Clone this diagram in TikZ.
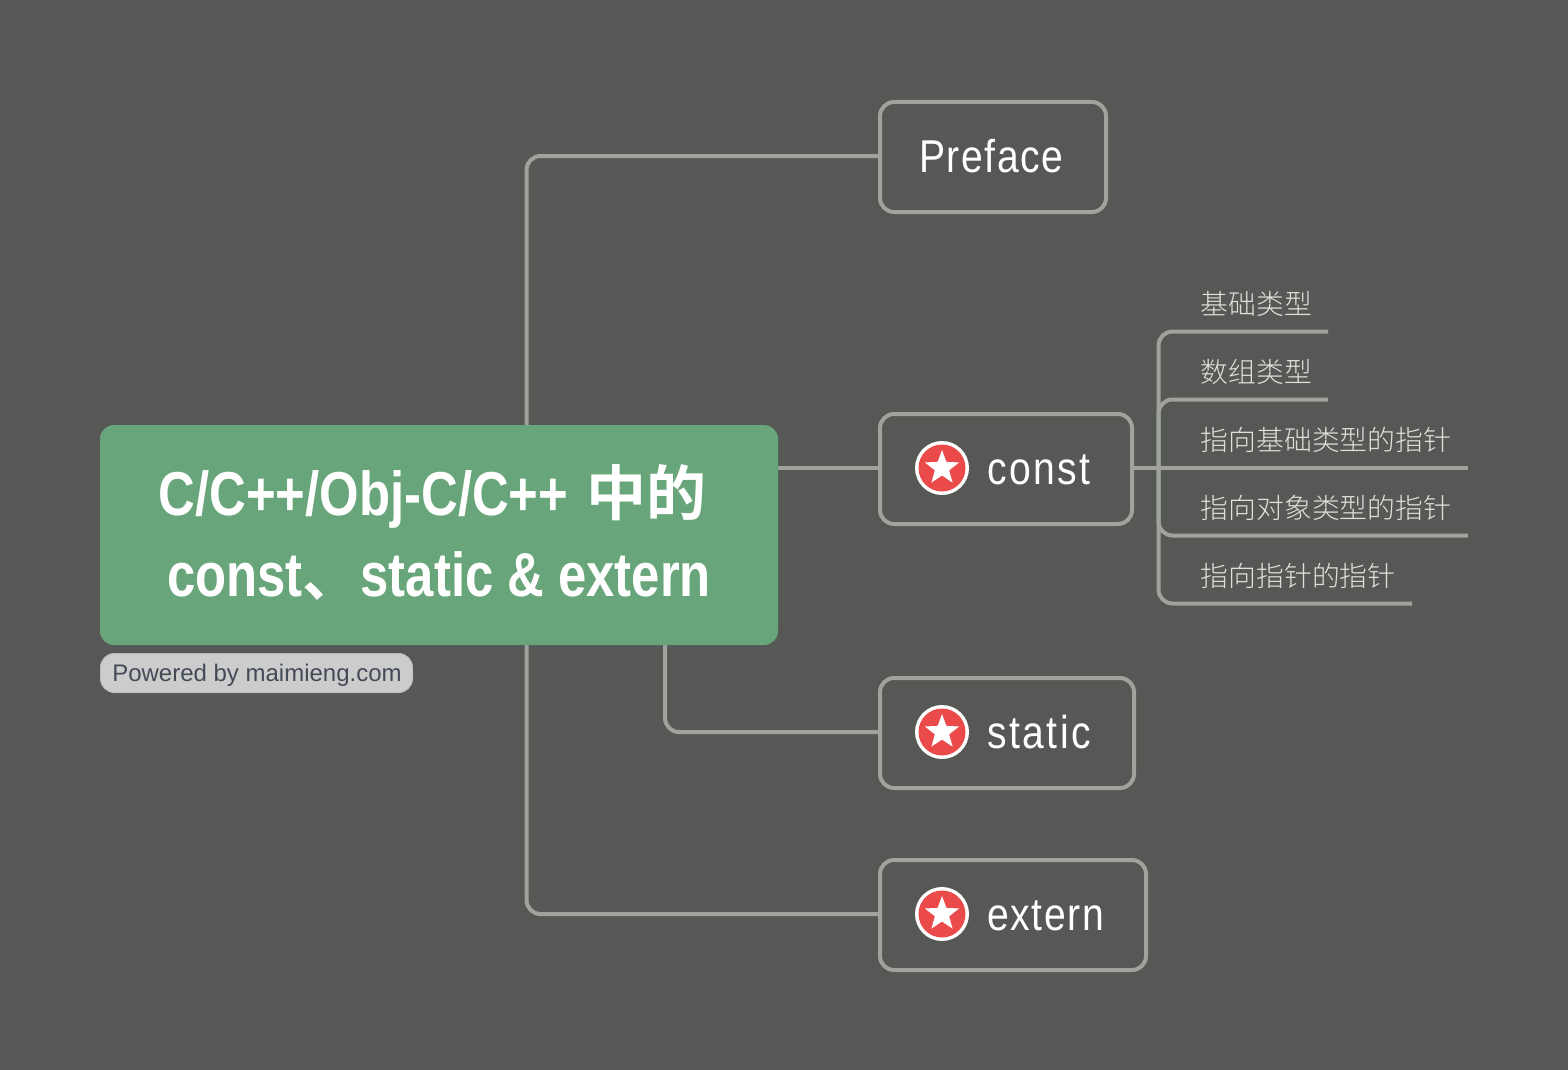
\documentclass[tikz,border=0pt]{standalone}
\usepackage{fontspec}
\usetikzlibrary{shapes.geometric}
\setmainfont{Liberation Sans}
\newfontfamily\condreg[FakeStretch=0.85,LetterSpace=5.5]{Liberation Sans}
\newfontfamily\condregn[FakeStretch=0.85,LetterSpace=3.5]{Liberation Sans}
\newfontfamily\condbold[FakeStretch=0.82,Kerning=Off]{Liberation Sans Bold}
\newfontfamily\condboldk[FakeStretch=0.82]{Liberation Sans Bold}
\newfontfamily\cjk{Noto Sans CJK SC Light}
\newfontfamily\cjkb{Noto Sans CJK SC Bold}
\definecolor{bgc}{HTML}{565855}
\definecolor{linec}{HTML}{9FA39C}
\definecolor{greenc}{HTML}{69A57B}
\definecolor{leafc}{HTML}{DDDFDB}
\definecolor{badgec}{HTML}{CCCCCC}
\definecolor{badget}{HTML}{444B57}
\definecolor{redc}{HTML}{EA4A4A}
\tikzset{
  conn/.style={draw=linec,line width=4pt,rounded corners=14pt},
  topicbox/.style={draw=linec,line width=4pt,rounded corners=14pt,minimum height=110pt,inner sep=0pt,outer sep=0pt},
  topictext/.style={text=white,inner sep=0pt},
  leaf/.style={anchor=south east,text=leafc,inner xsep=0pt,inner ysep=0pt,minimum height=54pt,align=left,font=\cjk\fontsize{27.8}{30}\selectfont},
  ring/.style={circle,fill=white,minimum size=54pt,inner sep=0pt},
  disc/.style={circle,fill=redc,minimum size=47pt,inner sep=0pt},
  starshape/.style={star,star points=5,star point ratio=2.4,fill=white,minimum size=36pt,inner sep=0pt},
  roottext/.style={text=white,inner sep=0pt}
}
\begin{document}
\begin{tikzpicture}[x=1pt,y=-1pt]
\useasboundingbox (0,0) rectangle (1568,1070);
\fill[bgc] (0,0) rectangle (1568,1070);
% anchors
\coordinate (tp) at (526.5,425);
\coordinate (tq) at (526.5,645);
\coordinate (ts) at (665,645);
\coordinate (tc) at (778,467.5);
\coordinate (j) at (1158.5,467.5);
% topic boxes
\node[topicbox,minimum width=226pt] (preface) at (993,157) {};
\node[topicbox,minimum width=252pt] (constb) at (1006,469) {};
\node[topicbox,minimum width=254pt] (staticb) at (1007,733) {};
\node[topicbox,minimum width=266pt] (externb) at (1013,915) {};
% connectors
\draw[conn] (tp) |- ([yshift=1pt]preface.west);
\draw[conn] (tc) -- (tc -| constb.west);
\draw[conn] (ts) |- ([yshift=1pt]staticb.west);
\draw[conn] (tq) |- ([yshift=1pt]externb.west);
% leaves
\node[leaf,minimum width=127pt,text width=127pt] (l1) at (1328,331.5) {基础类型};
\node[leaf,minimum width=127pt,text width=127pt] (l2) at (1328,399.5) {数组类型};
\node[leaf,minimum width=267pt,text width=267pt] (l3) at (1468,467.5) {指向基础类型的指针};
\node[leaf,minimum width=267pt,text width=267pt] (l4) at (1468,535.5) {指向对象类型的指针};
\node[leaf,minimum width=211pt,text width=211pt] (l5) at (1412,603.5) {指向指针的指针};
\draw[conn] (constb.east |- j) -- (j) -- (l3.south east);
\draw[conn] (j) |- (l1.south east);
\draw[conn] (j) |- (l2.south east);
\draw[conn] (j) |- (l4.south east);
\draw[conn] (j) |- (l5.south east);
% root
\node[fill=greenc,rounded corners=14pt,minimum width=678pt,minimum height=220pt,inner sep=0pt] (root) at (439,535) {};
\node[roottext,anchor=base,font=\condbold\fontsize{62}{66}\selectfont] (r1) at (432.5,515) {C/C++/Obj-C/C++\hspace{4pt} {\cjkb\fontsize{60}{62}\selectfont 中的}};
\node[roottext,anchor=base,font=\condboldk\fontsize{62}{66}\selectfont] (r2) at (439,596) {const{\cjkb\fontsize{58}{60}\selectfont 、}static \& extern};
% badge
\node[fill=badgec,draw=badgec!92!black,line width=1pt,rounded corners=14pt,minimum width=312pt,minimum height=39pt,inner sep=0pt] (badge) at (256.5,673) {};
\node[inner sep=0pt,text=badget,font=\fontsize{24}{28}\selectfont,anchor=base] (badgetxt) at (257,681.5) {Powered by maimieng.com};
% topic labels
\node[topictext,anchor=base west,font=\condregn\fontsize{46}{50}\selectfont] (t0) at (919,172) {Preface};
\foreach \n/\y/\t/\f in {c/468/const/\condreg,s/732/static/\condreg,e/914/extern/\condregn}{
  \node[ring] (ring\n) at (942,\y) {};
  \node[disc] (disc\n) at (942,\y) {};
  \node[starshape] (star\n) at (942,\y) {};
  \node[topictext,anchor=base west,font=\f\fontsize{46}{50}\selectfont] (t\n) at (987,\y+16) {\t};
}
\end{tikzpicture}
\end{document}
